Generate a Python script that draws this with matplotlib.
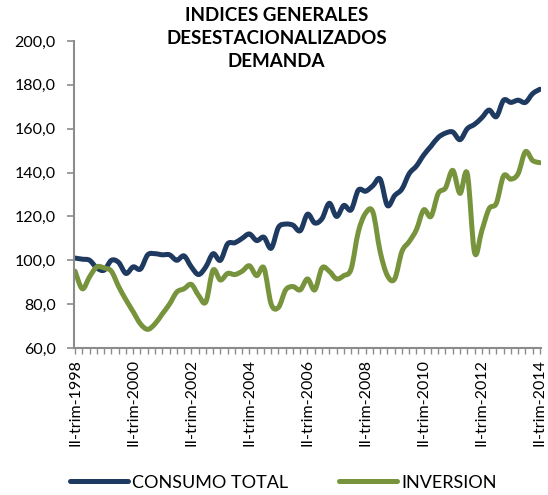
import matplotlib
matplotlib.use("Agg")
import matplotlib.pyplot as plt
from matplotlib.path import Path
from matplotlib.patches import PathPatch
from matplotlib.lines import Line2D
import numpy as np

years = list(range(1998, 2015, 2))
tick_labels = [f"II-trim-{y}" for y in years]

consumo = [101, 100.5, 100, 96.5, 95.5, 100, 99, 94, 97, 96, 102.5, 103, 102.5, 102.5, 100, 102,
           97, 93.5, 97, 103, 100, 107.5, 108, 110, 112, 109, 110.5, 105.5, 115, 116.5, 116, 113.5,
           121, 117, 119, 126, 120, 125, 123, 132, 131.5, 134, 137, 125, 129.5, 132.5, 139.5, 143,
           148, 152, 156, 158, 158.5, 155, 160, 162, 165, 168.5, 165.5, 173, 172, 173, 172, 176, 178]

inversion = [95, 87, 92.5, 97, 96.5, 95, 88, 82, 76.5, 71, 68.5, 71, 75.5, 80, 85.5, 87,
             89, 84, 81, 95.5, 91, 94, 93.5, 95, 97.5, 93, 96.5, 80, 78.5, 86.5, 88, 86.5,
             91.5, 86.5, 96.5, 95, 91.5, 93, 96, 113, 121.5, 122, 104, 93, 91.5, 104, 108.5, 114,
             123, 120, 130.5, 133, 141, 130.5, 139.5, 103.5, 113.5, 123.5, 126, 138.5, 137, 139.5, 149.5, 145.5, 144.5]

series_names = ["CONSUMO TOTAL", "INVERSION"]
colors = ["#1F3A60", "#77933C"]

plt.rcParams['font.family'] = ["Lato", "DejaVu Sans"]

fig = plt.figure(figsize=(5.48, 4.95), dpi=100)
ax = fig.add_axes([74/548, 1-348/495, (541-74)/548, (348-41)/495])


def smooth_path(xs, ys):
    # Excel-style smoothed line: cubic Bezier through each data point
    pts = np.column_stack([xs, ys]).astype(float)
    n = len(pts)
    verts = [pts[0]]
    codes = [Path.MOVETO]
    for i in range(n - 1):
        p0 = pts[i - 1] if i > 0 else pts[i]
        p1 = pts[i]
        p2 = pts[i + 1]
        p3 = pts[i + 2] if i + 2 < n else pts[i + 1]
        c1 = p1 + (p2 - p0) / 6.0
        c2 = p2 - (p3 - p1) / 6.0
        verts += [c1, c2, p2]
        codes += [Path.CURVE4] * 3
    return Path(verts, codes)


x = np.arange(len(consumo))
handles = []
for vals, name, c in zip([consumo, inversion], series_names, colors):
    patch = PathPatch(smooth_path(x, vals), facecolor='none', edgecolor=c, lw=3.6,
                      joinstyle='round', capstyle='round')
    ax.add_patch(patch)
    handles.append(Line2D([], [], color=c, lw=3.6, solid_capstyle='round', label=name))

ax.set_ylim(60, 200)
ax.set_yticks(np.arange(60, 201, 20))
ax.set_yticklabels([f"{v:.1f}".replace('.', ',') for v in np.arange(60, 201, 20)], fontsize=11.5)
ax.set_xlim(-0.15, 64.15)
ax.set_xticks(np.arange(0, 65, 8))
ax.set_xticklabels(tick_labels, rotation=90, fontsize=11.5)
ax.set_xticks(np.arange(0, 65, 1), minor=True)
for s in ['top', 'right']:
    ax.spines[s].set_visible(False)
for s in ['left', 'bottom']:
    ax.spines[s].set_color('#8c8c8c')
    ax.spines[s].set_linewidth(1.5)
ax.tick_params(axis='y', direction='out', length=5, width=1.2, color='#8c8c8c', pad=8)
ax.tick_params(axis='x', which='both', direction='out', length=4, width=1, color='#8c8c8c', pad=4)

fig.text(0.505, 0.985, "INDICES GENERALES\nDESESTACIONALIZADOS\nDEMANDA", ha='center', va='top',
         fontsize=13.5, fontweight='bold', linespacing=1.4)

fig.legend(handles=handles, loc='center', bbox_to_anchor=(0.517, 0.025), ncol=2, frameon=False,
           fontsize=13, handlelength=3.2, columnspacing=2.8, handletextpad=0.25)

fig.savefig("out.png", dpi=100)
